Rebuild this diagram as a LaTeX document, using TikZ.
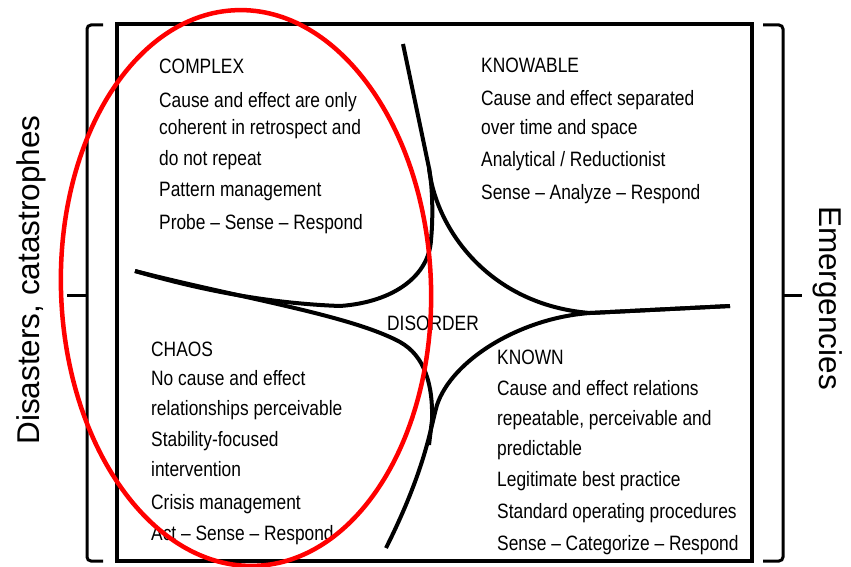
\documentclass[tikz,border=0pt]{standalone}
\usepackage{fontspec}
\setmainfont{Liberation Sans}
\newfontfamily\bodyfont[FakeStretch=0.835]{Liberation Sans}
\begin{document}
\begin{tikzpicture}[x=1pt,y=-1pt,
  txt/.style={font=\bodyfont\fontsize{20.8}{25}\selectfont, anchor=base west, inner sep=0pt},
  side/.style={font=\fontsize{31.5}{36}\selectfont, inner sep=0pt},
  frame/.style={line width=4pt},
  curve/.style={line width=4pt},
  brk/.style={line width=3pt, rounded corners=4pt},
  oval/.style={draw=red, line width=4.5pt}]
\useasboundingbox (0,0) rectangle (851,567);
% main box
\draw[frame] (117,24) rectangle (752,561);
% brackets
\draw[brk] (103,25) -- (87,25) -- (87,561) -- (103,561);
\draw[line width=3pt] (87,295) -- (67,295);
\draw[brk] (763,25) -- (783,25) -- (783,561) -- (763,561);
\draw[line width=3pt] (783,295) -- (802,295);
% side labels
\node[side, rotate=90] (dis) at (31,280) {Disasters, catastrophes};
\node[side, rotate=-90] (emg) at (828,298) {Emergencies};
% curves
\draw[curve] (403,44) -- (429,168) .. controls (433,190) and (433,220) .. (431,240)
  .. controls (429,275) and (395,302) .. (340,306)
  .. controls (260,303) and (190,287) .. (135,271);
\draw[curve] (429,168) .. controls (436,230) and (490,305) .. (590,313) -- (730,306);
\draw[curve] (730,306) -- (590,313) .. controls (520,318) and (452,360) .. (437,405)
  .. controls (430,430) and (425,470) .. (386,548);
\draw[curve] (135,271) .. controls (240,298) and (350,315) .. (400,342)
  .. controls (425,356) and (433,385) .. (432,420) -- (429,445);
% COMPLEX
\node[txt] (c0) at (159,73.3) {COMPLEX};
\node[txt] (c1) at (159,107.3) {Cause and effect are only};
\node[txt] (c2) at (159,135) {coherent in retrospect and};
\node[txt] (c3) at (159,165) {do not repeat};
\node[txt] (c4) at (159,196.7) {Pattern management};
\node[txt] (c5) at (159,229) {Probe – Sense – Respond};
% KNOWABLE
\node[txt] (k0) at (481,72.7) {KNOWABLE};
\node[txt] (k1) at (481,106) {Cause and effect separated};
\node[txt] (k2) at (481,135) {over time and space};
\node[txt] (k3) at (481,166.7) {Analytical / Reductionist};
\node[txt] (k4) at (481,199) {Sense – Analyze – Respond};
% DISORDER
\node[txt] (d0) at (387,330) {DISORDER};
% CHAOS
\node[txt] (h0) at (151,356) {CHAOS};
\node[txt] (h1) at (151,385) {No cause and effect};
\node[txt] (h2) at (151,415) {relationships perceivable};
\node[txt] (h3) at (151,446.7) {Stability-focused};
\node[txt] (h4) at (151,476.7) {intervention};
\node[txt] (h5) at (151,509.3) {Crisis management};
\node[txt] (h6) at (151,540) {Act – Sense – Respond};
% KNOWN
\node[txt] (n0) at (497,364.3) {KNOWN};
\node[txt] (n1) at (497,395) {Cause and effect relations};
\node[txt] (n2) at (497,425.7) {repeatable, perceivable and};
\node[txt] (n3) at (497,455) {predictable};
\node[txt] (n4) at (497,486.7) {Legitimate best practice};
\node[txt] (n5) at (497,518.3) {Standard operating procedures};
\node[txt] (n6) at (497,550.7) {Sense – Categorize – Respond};
% red ellipse
\draw[oval, rotate around={2:(246,288)}] (246,288) ellipse [x radius=185, y radius=278];
\end{tikzpicture}
\end{document}
